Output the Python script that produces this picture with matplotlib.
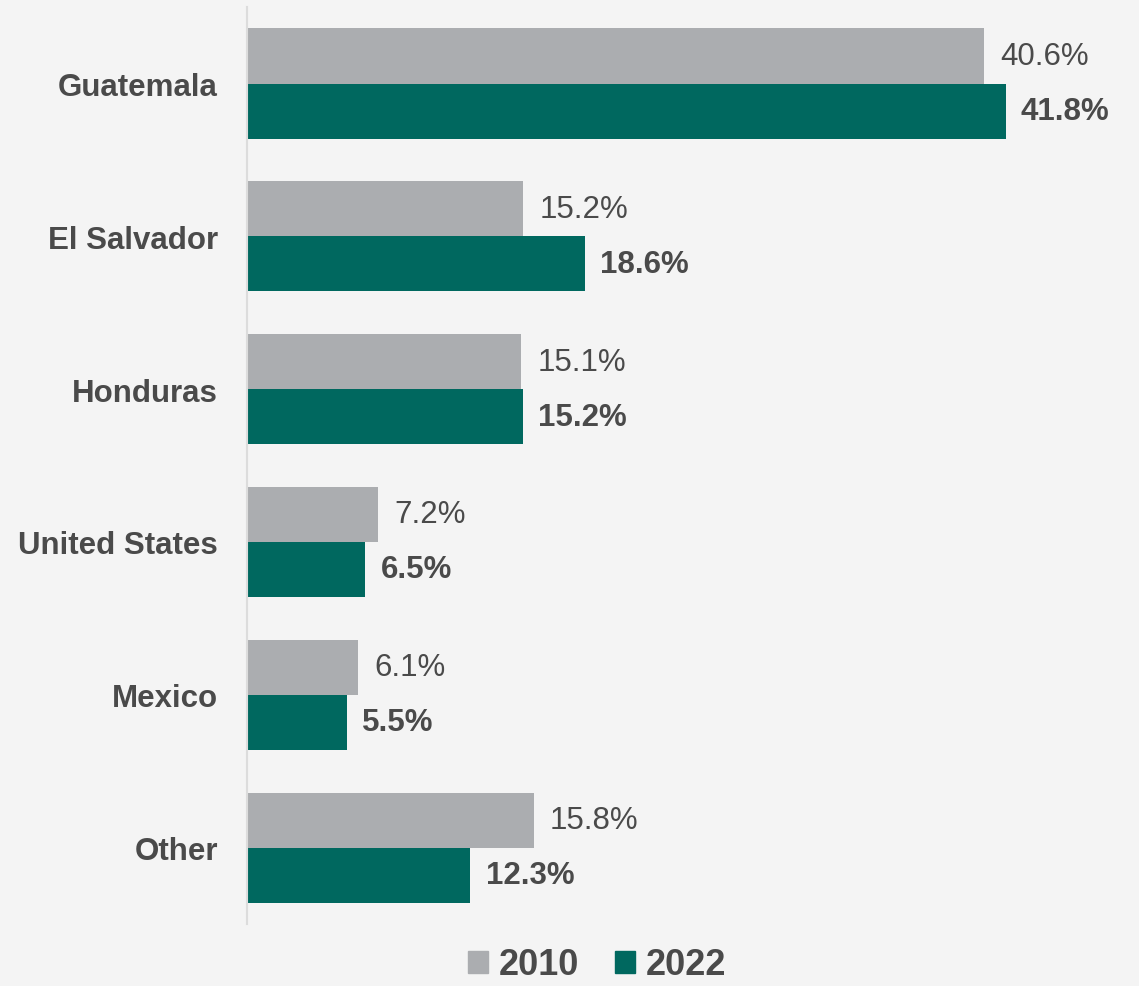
import matplotlib.pyplot as plt
from matplotlib.patches import Patch
import numpy as np

plt.rcParams['font.family'] = ['Liberation Sans', 'DejaVu Sans']

countries = ['Guatemala', 'El Salvador', 'Honduras', 'United States', 'Mexico', 'Other']
share_2010 = [40.6, 15.2, 15.1, 7.2, 6.1, 15.8]
share_2022 = [41.8, 18.6, 15.2, 6.5, 5.5, 12.3]
years = ['2010', '2022']

bg = '#f4f4f4'
grey = '#abadb0'
teal = '#00685f'
txt = '#4a4a4a'

fig = plt.figure(figsize=(11.39, 9.87), dpi=100, facecolor=bg)
ax = fig.add_axes([0.2169, 0.0628, 0.783, 0.929], facecolor=bg)

y = np.arange(len(countries))
h = 0.36
b1 = ax.barh(y - h / 2, share_2010, height=h, color=grey)
b2 = ax.barh(y + h / 2, share_2022, height=h, color=teal)

for rect, v in zip(b1, share_2010):
    ax.text(rect.get_width() + 0.9, rect.get_y() + rect.get_height() / 2,
            f'{v:.1f}%', va='center', ha='left', fontsize=22.5, color=txt)
for rect, v in zip(b2, share_2022):
    ax.text(rect.get_width() + 0.85, rect.get_y() + rect.get_height() / 2,
            f'{v:.1f}%', va='center', ha='left', fontsize=22.5, color=txt,
            fontweight='bold')

ax.set_xlim(0, 49.15)
ax.set_ylim(5.5, -0.5)
ax.set_yticks(y)
ax.set_yticklabels(countries, fontsize=22.5, fontweight='bold', color=txt)
ax.tick_params(axis='y', length=0, pad=21)
ax.set_xticks([])
for s in ['top', 'right', 'bottom']:
    ax.spines[s].set_visible(False)
ax.spines['left'].set_color('#dcdcdc')
ax.spines['left'].set_linewidth(1.5)

handles = [Patch(color=grey), Patch(color=teal)]
leg = fig.legend(handles, years, loc='center', bbox_to_anchor=(597 / 1139, 21 / 987),
                 ncol=2, frameon=False, handlelength=0.55, handleheight=0.55,
                 handletextpad=0.3, columnspacing=1.0,
                 prop={'size': 26, 'weight': 'bold'})
for t in leg.get_texts():
    t.set_color(txt)

fig.savefig('out.png', dpi=100, facecolor=bg)
